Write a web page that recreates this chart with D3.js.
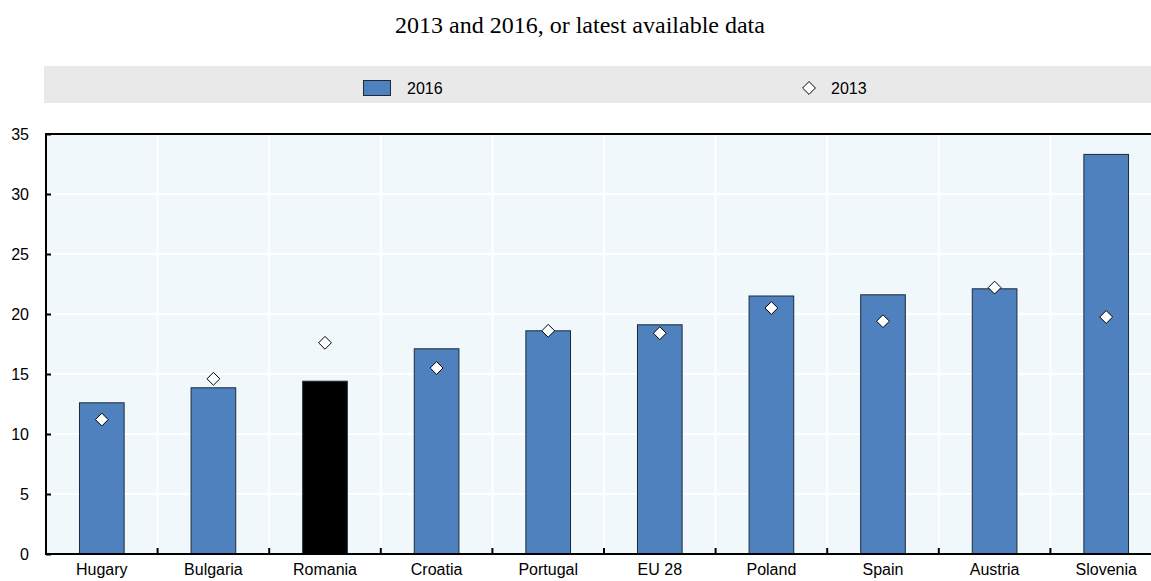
<!DOCTYPE html>
<html><head><meta charset="utf-8">
<script src="https://cdn.jsdelivr.net/npm/d3@7"></script>
<style>body{margin:0;background:#fff;}svg{display:block;}</style>
</head><body>
<svg id="chart" width="1151" height="581"></svg>
<script>
const categories = ["Hugary","Bulgaria","Romania","Croatia","Portugal","EU 28","Poland","Spain","Austria","Slovenia"];
const values2016 = [12.6,13.85,14.4,17.1,18.6,19.1,21.5,21.6,22.1,33.3];
const values2013 = [11.2,14.6,17.6,15.5,18.6,18.4,20.5,19.4,22.2,19.75];
const highlight = ["Romania"];
const yTicks = [0,5,10,15,20,25,30,35];
const legendLabels = ["2016","2013"];
const titleText = "2013 and 2016, or latest available data";

(function(){
const svg = d3.select("#chart");
const pL = 46, pR = 1162, pT = 134, pB = 554;
const x = d3.scaleBand().domain(categories).range([pL, pR]).paddingInner(0.6).paddingOuter(0.3);
const xb = d3.scaleBand().domain(categories).range([pL, pR]);
const y = d3.scaleLinear().domain([0,35]).range([pB, pT]);
const sans = "Arial, 'Liberation Sans', sans-serif";

svg.append("text").attr("x",580).attr("y",33).attr("text-anchor","middle")
  .attr("font-family","'Times New Roman','Liberation Serif',serif").attr("font-size",24).attr("fill","#000").text(titleText);

// legend
svg.append("rect").attr("x",44).attr("y",66).attr("width",1107).attr("height",37).attr("fill","#e9e9e9");
svg.append("rect").attr("x",363.5).attr("y",80.5).attr("width",27).attr("height",15).attr("fill","#4e81bd").attr("stroke","#1c2a3a").attr("stroke-width",1);
svg.append("text").attr("x",407).attr("y",94).attr("font-family",sans).attr("font-size",16).attr("fill","#000").text(legendLabels[0]);
svg.append("path").attr("d",d3.symbol().type(d3.symbolDiamond2).size(105)()).attr("transform","translate(809,88)")
  .attr("fill","#fff").attr("stroke","#000").attr("stroke-width",1);
svg.append("text").attr("x",831).attr("y",94).attr("font-family",sans).attr("font-size",16).attr("fill","#000").text(legendLabels[1]);

// plot background
svg.append("rect").attr("x",pL).attr("y",pT).attr("width",pR-pL).attr("height",pB-pT).attr("fill","#f0f8fc");
// gridlines
svg.append("g").selectAll("line").data(yTicks.slice(1,-1)).join("line")
  .attr("x1",pL).attr("x2",pR).attr("y1",d=>y(d)).attr("y2",d=>y(d)).attr("stroke","#fff").attr("stroke-width",2);
svg.append("g").selectAll("line").data(categories.slice(1)).join("line")
  .attr("x1",d=>xb(d)).attr("x2",d=>xb(d)).attr("y1",pT).attr("y2",pB).attr("stroke","#fff").attr("stroke-width",2);

// bars
svg.append("g").selectAll("rect").data(categories).join("rect")
  .attr("x",d=>x(d)).attr("width",x.bandwidth())
  .attr("y",(d,i)=>y(values2016[i])).attr("height",(d,i)=>y(0)-y(values2016[i]))
  .attr("fill",d=>highlight.includes(d)?"#000":"#4e81bd").attr("stroke","#1c2a3a").attr("stroke-width",1);

// markers
svg.append("g").selectAll("path").data(categories).join("path")
  .attr("d",d3.symbol().type(d3.symbolDiamond2).size(105)())
  .attr("transform",(d,i)=>`translate(${x(d)+x.bandwidth()/2},${y(values2013[i])})`)
  .attr("fill","#fff").attr("stroke","#000").attr("stroke-width",1);

// axes
const yAxis = svg.append("g").attr("transform",`translate(${pL},0)`)
  .call(d3.axisLeft(y).tickValues(yTicks).tickSize(-5).tickPadding(17));
yAxis.select(".domain").remove();
yAxis.selectAll(".tick line").attr("stroke","#000").attr("stroke-width",2);
yAxis.selectAll("text").attr("font-family",sans).attr("font-size",16).attr("fill","#000");
svg.append("line").attr("x1",pL).attr("x2",pL).attr("y1",pT-1).attr("y2",pB+1).attr("stroke","#000").attr("stroke-width",2);
svg.append("line").attr("x1",pL-1).attr("x2",pR).attr("y1",pT).attr("y2",pT).attr("stroke","#000").attr("stroke-width",2);
svg.append("line").attr("x1",pL-1).attr("x2",pR).attr("y1",pB).attr("y2",pB).attr("stroke","#000").attr("stroke-width",2);
svg.append("g").selectAll("line").data(categories.slice(1)).join("line")
  .attr("x1",d=>xb(d)).attr("x2",d=>xb(d)).attr("y1",pB).attr("y2",pB-6).attr("stroke","#000").attr("stroke-width",2);

const xAxis = svg.append("g").attr("transform",`translate(0,${pB})`)
  .call(d3.axisBottom(x).tickSize(0).tickPadding(10));
xAxis.select(".domain").remove();
xAxis.selectAll("text").attr("font-family",sans).attr("font-size",16).attr("fill","#000");
})();
</script>
</body></html>
